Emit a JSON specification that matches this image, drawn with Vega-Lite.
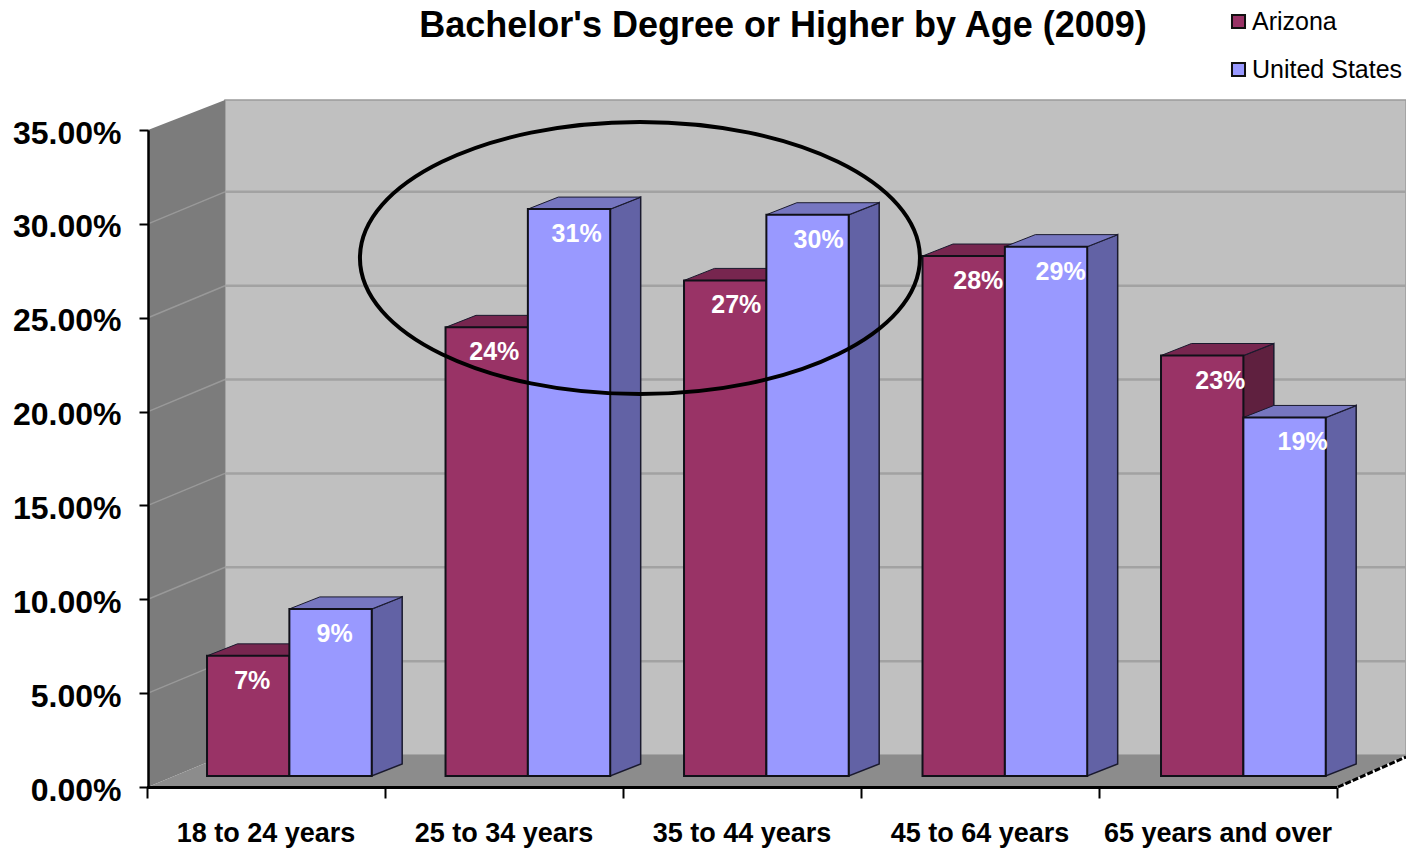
{
"$schema":"https://vega.github.io/schema/vega-lite/v6.json",
"width":1190,"height":657,
"autosize":{"type":"none"},
"padding":{"left":148,"top":130,"right":68,"bottom":61},
"background":"white",
"config":{"view":{"stroke":null},"font":"Liberation Sans"},
"title":{"text":"Bachelor's Degree or Higher by Age (2009)","font":"Liberation Sans","fontSize":36,"fontWeight":"bold","color":"#000","anchor":"middle","dx":40,"offset":-36},
"data":{"values":[
{"age":"18 to 24 years","series":"Arizona","value":0.064,"label":"7%"},
{"age":"18 to 24 years","series":"United States","value":0.089,"label":"9%"},
{"age":"25 to 34 years","series":"Arizona","value":0.239,"label":"24%"},
{"age":"25 to 34 years","series":"United States","value":0.302,"label":"31%"},
{"age":"35 to 44 years","series":"Arizona","value":0.264,"label":"27%"},
{"age":"35 to 44 years","series":"United States","value":0.299,"label":"30%"},
{"age":"45 to 64 years","series":"Arizona","value":0.277,"label":"28%"},
{"age":"45 to 64 years","series":"United States","value":0.282,"label":"29%"},
{"age":"65 years and over","series":"Arizona","value":0.224,"label":"23%"},
{"age":"65 years and over","series":"United States","value":0.191,"label":"19%"}
]},
"transform":[
{"calculate":"indexof(['18 to 24 years','25 to 34 years','35 to 44 years','45 to 64 years','65 years and over'],datum.age)","as":"i"},
{"calculate":"datum.i*1.0021+0.248+(datum.series==='United States'?0.346:0)","as":"x0"},
{"calculate":"datum.x0+0.346","as":"x1"},
{"calculate":"datum.value+0.00586","as":"top"},
{"calculate":"datum.age+datum.series","as":"id"},
{"calculate":"[0,1]","as":"corner"}
],
"resolve":{"scale":{"x":"independent"}},
"layer":[
{"layer":[
{"data":{"values":[{}]},"mark":{"type":"rect","fill":"#c0c0c0","stroke":"#9a9a9a","strokeWidth":1.5},
 "encoding":{"x":{"datum":0.3235,"type":"quantitative","scale":{"domain":[0,5],"nice":false,"zero":false},"axis":null},"x2":{"datum":5.286},
 "y":{"datum":0.01705,"type":"quantitative","scale":{"domain":[0,0.35],"nice":false},"axis":{"orient":"left","values":[0,0.05,0.1,0.15,0.2,0.25,0.3,0.35],"format":".2%","title":null,"grid":false,"domain":true,"domainColor":"#000","domainWidth":2.5,"ticks":true,"tickColor":"#000","tickSize":9,"tickWidth":2,"labelFont":"Liberation Sans","labelFontSize":32,"labelFontWeight":"bold","labelColor":"#000","labelPadding":18,"labelOffset":3,"zindex":1}},"y2":{"datum":0.366}}},
{"data":{"values":[{"depth":0},{"depth":1}]},"transform":[{"calculate":"0.3235*datum.depth","as":"xd"},{"calculate":"0.01705*datum.depth","as":"yb"},{"calculate":"0.35+0.016*datum.depth","as":"yt"}],
 "mark":{"type":"area","orient":"vertical","fill":"#7c7c7c"},
 "encoding":{"x":{"field":"xd","type":"quantitative"},"y":{"field":"yt","type":"quantitative"},"y2":{"field":"yb"}}},
{"data":{"values":[{"tick":0.05},{"tick":0.1},{"tick":0.15},{"tick":0.2},{"tick":0.25},{"tick":0.3}]},"transform":[{"calculate":"datum.tick+0.01705","as":"back"}],
 "mark":{"type":"rule","stroke":"#a2a2a2","strokeWidth":2.5},
 "encoding":{"x":{"datum":0.3235,"type":"quantitative"},"x2":{"datum":5.286},"y":{"field":"back","type":"quantitative"}}},
{"data":{"values":[{"tick":0.05},{"tick":0.1},{"tick":0.15},{"tick":0.2},{"tick":0.25},{"tick":0.3}]},"transform":[{"calculate":"datum.tick+0.01705","as":"back"}],
 "mark":{"type":"rule","stroke":"#999999","strokeWidth":1.5},
 "encoding":{"x":{"datum":0,"type":"quantitative"},"x2":{"datum":0.3235},"y":{"field":"tick","type":"quantitative"},"y2":{"field":"back"}}},
{"data":{"values":[{"depth":0},{"depth":1}]},"transform":[{"calculate":"0.3235*datum.depth","as":"xl"},{"calculate":"5+0.286*datum.depth","as":"xr"},{"calculate":"0.01705*datum.depth","as":"yf"}],
 "mark":{"type":"area","orient":"horizontal","fill":"#8c8c8c"},
 "encoding":{"y":{"field":"yf","type":"quantitative"},"x":{"field":"xl","type":"quantitative"},"x2":{"field":"xr"}}},
{"data":{"values":[{}]},"mark":{"type":"rule","stroke":"#000","strokeWidth":3,"strokeDash":[6,2]},
 "encoding":{"x":{"datum":5,"type":"quantitative"},"x2":{"datum":5.286},"y":{"datum":0,"type":"quantitative"},"y2":{"datum":0.016}}},
{"transform":[{"flatten":["corner"]},{"calculate":"datum.x1+0.128*datum.corner","as":"sx"},{"calculate":"datum.top+0.0064*datum.corner","as":"st"},{"calculate":"0.00586+0.0064*datum.corner","as":"sb"}],
 "mark":{"type":"area","orient":"vertical","stroke":"#1a1a2e","strokeWidth":1.5},
 "encoding":{"detail":{"field":"id"},"x":{"field":"sx","type":"quantitative"},"y":{"field":"st","type":"quantitative"},"y2":{"field":"sb"},
 "fill":{"condition":{"test":"datum.series==='Arizona'","value":"#5f203f"},"value":"#6262a5"}}},
{"transform":[{"flatten":["corner"]},{"calculate":"datum.x0+0.128*datum.corner","as":"tl"},{"calculate":"datum.x1+0.128*datum.corner","as":"tr"},{"calculate":"datum.top+0.0064*datum.corner","as":"ty"}],
 "mark":{"type":"area","orient":"horizontal","stroke":"#1a1a2e","strokeWidth":1},
 "encoding":{"detail":{"field":"id"},"y":{"field":"ty","type":"quantitative"},"x":{"field":"tl","type":"quantitative"},"x2":{"field":"tr"},
 "fill":{"condition":{"test":"datum.series==='Arizona'","value":"#77264f"},"value":"#7676c0"}}},
{"mark":{"type":"rect","stroke":"#101018","strokeWidth":2},
 "encoding":{"x":{"field":"x0","type":"quantitative"},"x2":{"field":"x1"},"y":{"field":"top","type":"quantitative"},"y2":{"datum":0.00586},
 "color":{"field":"series","type":"nominal","scale":{"domain":["Arizona","United States"],"range":["#993366","#9999ff"]},
 "legend":{"title":null,"orient":"none","legendX":1078,"legendY":-121,"symbolType":"square","symbolSize":170,"symbolStrokeColor":"#111","symbolStrokeWidth":2,"symbolOpacity":1,"labelFont":"Liberation Sans","labelFontSize":25,"labelColor":"#000","labelOffset":1,"rowPadding":22,"padding":0}}}},
{"transform":[{"calculate":"(datum.x0+datum.x1)/2+0.017+0.0147*datum.i","as":"lx"}],
 "mark":{"type":"text","color":"#fff","font":"Liberation Sans","fontSize":25,"fontWeight":"bold","dy":25,"baseline":"middle","align":"center"},
 "encoding":{"x":{"field":"lx","type":"quantitative"},"y":{"field":"top","type":"quantitative"},"text":{"field":"label"}}},
{"data":{"values":[{}]},"mark":{"type":"point","shape":"M -1 0 A 1 0.486 0 1 0 1 0 A 1 0.486 0 1 0 -1 0 Z","size":313600,"filled":false,"stroke":"#000","strokeWidth":4,"opacity":1},
 "encoding":{"x":{"datum":2.067,"type":"quantitative"},"y":{"datum":0.2818,"type":"quantitative"}}}
]},
{"mark":{"type":"tick","opacity":0},
 "encoding":{"x":{"field":"age","type":"nominal","sort":null,"scale":{"range":[-1.5,1188.5],"paddingInner":0,"paddingOuter":0},
 "axis":{"orient":"bottom","title":null,"tickBand":"extent","labelAngle":0,"labelFont":"Liberation Sans","labelFontSize":27,"labelFontWeight":"bold","labelColor":"#000","labelPadding":22,"domainColor":"#000","domainWidth":3,"tickColor":"#000","tickSize":11,"tickWidth":2,"zindex":1,"labelLimit":300}}}}
]
}
